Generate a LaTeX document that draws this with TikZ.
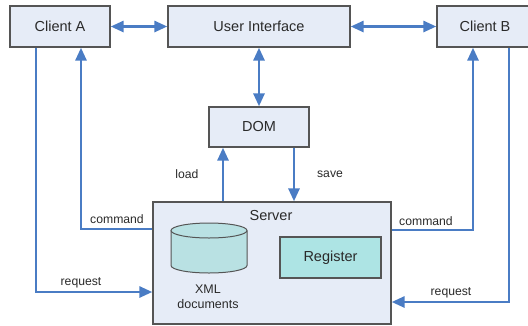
\documentclass[tikz,border=0pt]{standalone}
\usepackage{fontspec}
\setmainfont{Liberation Sans}
\usetikzlibrary{arrows.meta}
\definecolor{boxfill}{HTML}{E6ECF7}
\definecolor{boxline}{HTML}{555555}
\definecolor{arrowblue}{HTML}{4A7CC4}
\definecolor{cylfill}{HTML}{B9E1E3}
\definecolor{regfill}{HTML}{ADE4E4}
\definecolor{txt}{HTML}{2A2A2A}
\tikzset{
  box/.style={draw=boxline, fill=boxfill, line width=1.3pt, text=txt,
    font=\fontsize{14.5}{16}\selectfont, inner sep=0pt},
  lbl/.style={text=txt, font=\fontsize{12.2}{14}\selectfont, inner sep=0pt},
  conn/.style={draw=arrowblue, line width=2.8pt, -{Triangle[length=13pt,width=11pt]}},
  dconn/.style={draw=arrowblue, line width=2.8pt, {Triangle[length=13pt,width=11pt]}-{Triangle[length=13pt,width=11pt]}},
}
\begin{document}
\begin{tikzpicture}[x=1pt,y=-1pt]
\useasboundingbox (0,0) rectangle (528,325);
% boxes
\node[box, minimum width=100pt, minimum height=41pt] (ca) at (60,26.5) {Client A};
\node[box, minimum width=182pt, minimum height=41pt] (ui) at (259,26.5) {User Interface};
\node[box, minimum width=96pt, minimum height=41pt] (cb) at (485,26.5) {Client B};
\node[box, minimum width=100pt, minimum height=40pt] (dom) at (259,127) {DOM};
\node[box, minimum width=238pt, minimum height=122pt] (srv) at (272,263) {};
\node[box, draw=none, fill=none] (srvlbl) at (271,216) {Server};
\node[box, fill=regfill, minimum width=101pt, minimum height=41pt] (reg) at (330.5,257.5) {Register};
% cylinder
\draw[draw=boxline, fill=cylfill, line width=1pt]
  (171,230.5) -- (171,265.5) arc[start angle=180, end angle=360, x radius=38pt, y radius=7.5pt] -- (247,230.5);
\draw[draw=boxline, fill=cylfill, line width=1pt] (209,230.5) ellipse [x radius=38pt, y radius=7.5pt];
\node[lbl, align=center, font=\fontsize{12.5}{15.5}\selectfont] (xml) at (208,297) {XML\\documents};
% connectors
\draw[dconn] (ca.east) -- (ui.west);
\draw[dconn] (ui.east) -- (cb.west);
\draw[dconn] (ui.south) -- (dom.north);
\draw[conn] (srv.north -| 223,0) -- (dom.south -| 223,0);
\draw[conn] (dom.south -| 294,0) -- (srv.north -| 294,0);
\draw[conn] (ca.south -| 36,0) |- (srv.west |- 0,292);
\draw[conn] (srv.west |- 0,229) -| (ca.south -| 81,0);
\draw[conn] (srv.east |- 0,230) -| (cb.south -| 473,0);
\draw[conn] (cb.south -| 509,0) |- (srv.east |- 0,302);
% labels
\node[lbl] (lreqa) at (81,283) {request};
\node[lbl] (lcmda) at (117,219) {command};
\node[lbl] (lload) at (187,174) {load};
\node[lbl] (lsave) at (330,174) {save};
\node[lbl] (lcmdb) at (426,221) {command};
\node[lbl] (lreqb) at (451,293) {request};
\end{tikzpicture}
\end{document}
